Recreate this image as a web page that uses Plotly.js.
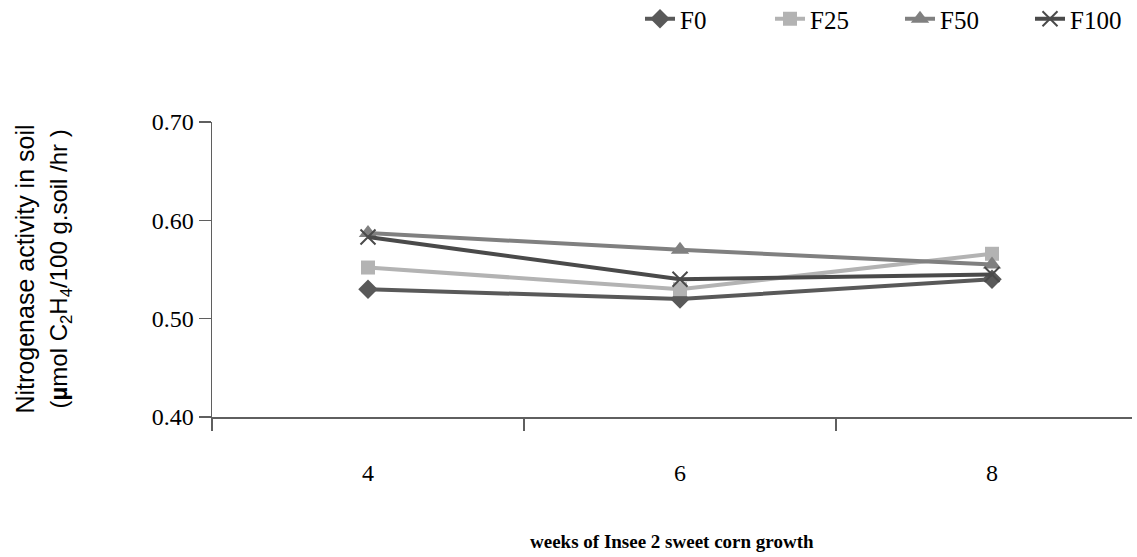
<!DOCTYPE html>
<html>
<head>
<meta charset="utf-8">
<script src="https://cdn.plot.ly/plotly-3.0.1.min.js"></script>
<style>html,body{margin:0;padding:0;background:#fff;}#chart{width:1137px;height:557px;}</style>
</head>
<body>
<div id="chart"></div>
<script>
// Data
const weeks = [4, 6, 8];
const weekLabels = ['4', '6', '8'];
const F0 = [0.53, 0.52, 0.54];
const F25 = [0.552, 0.53, 0.566];
const F50 = [0.587, 0.57, 0.555];
const F100 = [0.583, 0.54, 0.545];
const seriesNames = ['F0', 'F25', 'F50', 'F100'];
const yTicks = [0.40, 0.50, 0.60, 0.70];
const categoryEdges = [3, 5, 7, 9];
const yTitleLines = ['Nitrogenase activity in soil', '(<b>µ</b>mol C<sub>2</sub>H<sub>4</sub>/100 g.soil /hr )'];
const xTitle = 'weeks of Insee 2 sweet corn growth';

const serif = 'Liberation Serif, Times New Roman, serif';
const sans = 'Liberation Sans, Arial, sans-serif';

const styles = [
  {color: '#595959', symbol: 'diamond', size: 15, lw: 0},
  {color: '#B3B3B3', symbol: 'square', size: 14, lw: 0},
  {color: '#808080', symbol: 'triangle-up', size: 16, lw: 0},
  {color: '#4A4A4A', symbol: 'x-thin-open', size: 15, lw: 2}
];
const values = [F0, F25, F50, F100];

const traces = values.map((v, i) => ({
  x: weeks,
  y: v,
  name: seriesNames[i],
  type: 'scatter',
  mode: 'lines+markers',
  line: {color: styles[i].color, width: 4},
  marker: {
    color: styles[i].color,
    symbol: styles[i].symbol,
    size: styles[i].size,
    line: {color: styles[i].color, width: styles[i].lw}
  }
}));

const plotW = 1137 - 212 - 5;
const plotH = 557 - 122 - 140;
const layout = {
  width: 1137,
  height: 557,
  margin: {l: 212, r: 5, t: 122, b: 140, autoexpand: false},
  paper_bgcolor: '#fff',
  plot_bgcolor: '#fff',
  showlegend: true,
  legend: {
    orientation: 'h',
    x: (640 - 212) / plotW, xanchor: 'left',
    y: (417 - 19) / plotH, yanchor: 'middle',
    font: {family: serif, size: 25, color: '#000'},
    entrywidth: 85,
    entrywidthmode: 'pixels',
    traceorder: 'normal',
    bgcolor: 'rgba(0,0,0,0)'
  },
  xaxis: {
    range: [3, 3 + plotW / 156],
    tickmode: 'array',
    tickvals: weeks,
    ticktext: weekLabels,
    ticks: 'outside',
    ticklen: 33,
    tickcolor: 'rgba(0,0,0,0)',
    tickfont: {family: serif, size: 24, color: '#000'},
    showline: true,
    linecolor: '#5f5f5f',
    linewidth: 2,
    showgrid: false,
    zeroline: false,
    minor: {
      tickmode: 'array',
      tickvals: categoryEdges,
      ticks: 'outside',
      ticklen: 12,
      tickwidth: 1.5,
      tickcolor: '#5f5f5f',
      showgrid: false
    }
  },
  yaxis: {
    range: [0.4, 0.7],
    tickmode: 'array',
    tickvals: yTicks,
    tickformat: '.2f',
    ticks: 'outside',
    ticklen: 12,
    tickwidth: 1.5,
    tickcolor: '#5f5f5f',
    tickfont: {family: serif, size: 24, color: '#000'},
    showline: true,
    linecolor: '#5f5f5f',
    linewidth: 1.5,
    showgrid: false,
    zeroline: false
  },
  annotations: [
    {
      xref: 'paper', yref: 'paper',
      x: (24 - 212) / plotW, y: 0.5,
      xanchor: 'center', yanchor: 'middle',
      textangle: -90,
      text: yTitleLines[0],
      showarrow: false,
      font: {family: sans, size: 25, color: '#000'}
    },
    {
      xref: 'paper', yref: 'paper',
      x: (60 - 212) / plotW, y: 0.5,
      xanchor: 'center', yanchor: 'middle',
      textangle: -90,
      text: yTitleLines[1],
      showarrow: false,
      font: {family: sans, size: 24, color: '#000'}
    },
    {
      xref: 'paper', yref: 'paper',
      x: 0.5, y: -(541 - 417) / plotH,
      xanchor: 'center', yanchor: 'middle',
      text: '<b>' + xTitle + '</b>',
      showarrow: false,
      font: {family: serif, size: 19, color: '#000'}
    }
  ]
};

Plotly.newPlot('chart', traces, layout, {displayModeBar: false, staticPlot: true});
</script>
</body>
</html>
